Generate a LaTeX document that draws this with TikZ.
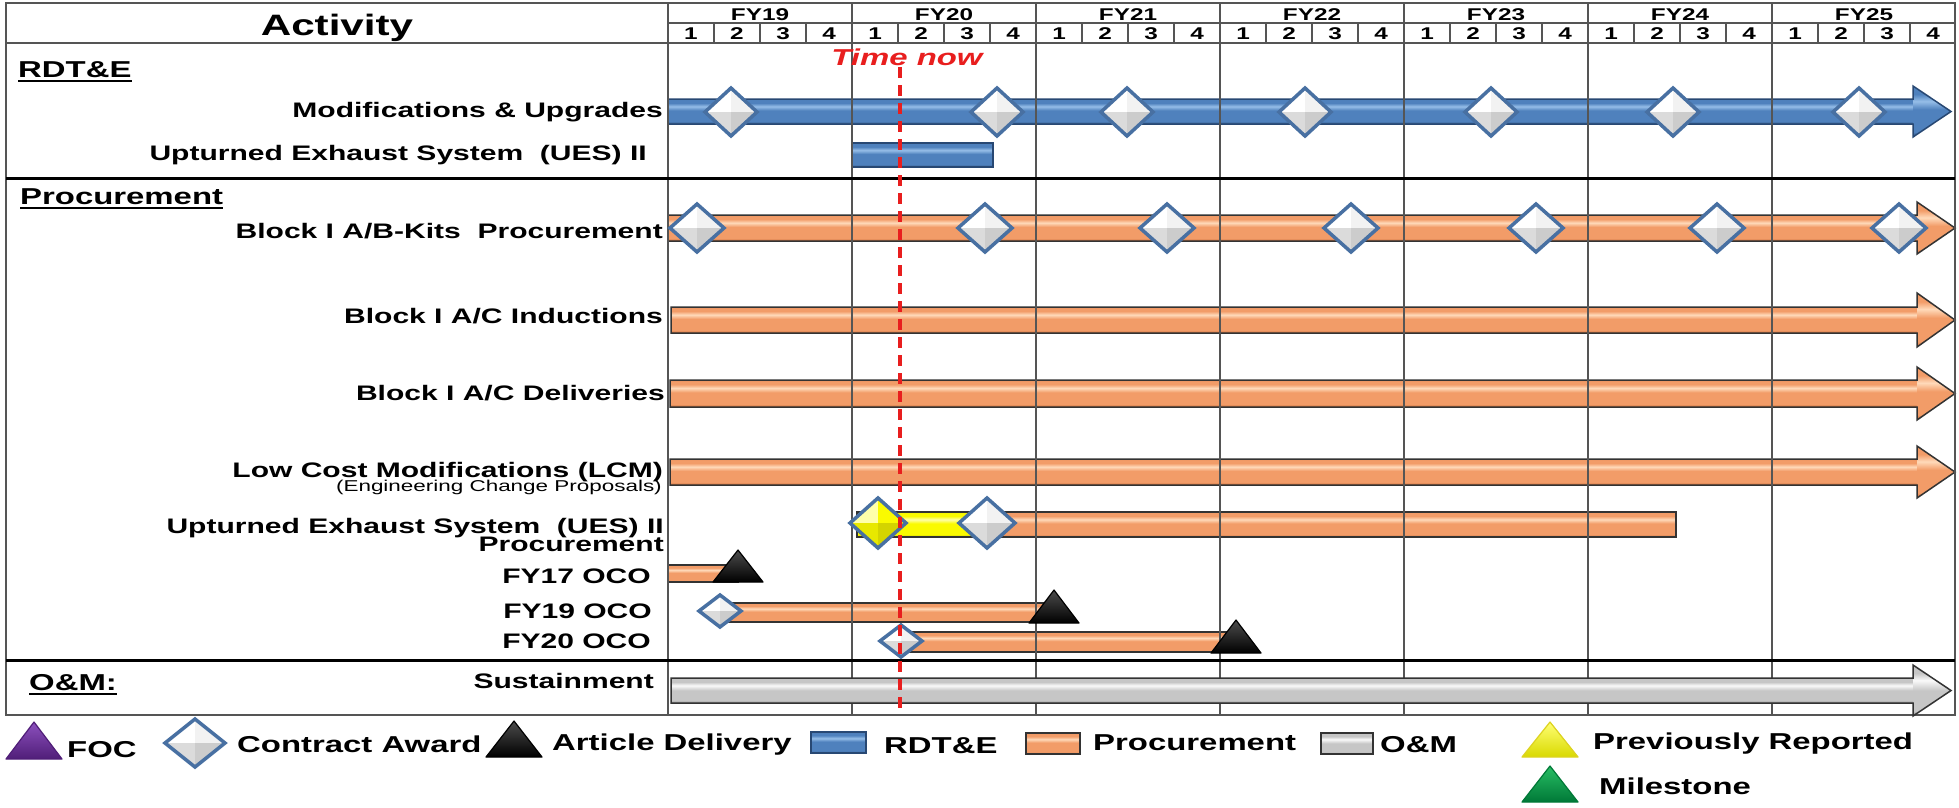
\documentclass[tikz,border=0pt]{standalone}
\usepackage{fontspec}
\setmainfont{Liberation Sans}[FakeStretch=1.43]
\usetikzlibrary{calc}
\definecolor{bbase}{RGB}{79,129,189}
\definecolor{bdark}{RGB}{40,72,115}
\definecolor{bhi}{RGB}{150,190,232}
\definecolor{obase}{RGB}{242,156,104}
\definecolor{odark}{RGB}{190,100,50}
\definecolor{ohi}{RGB}{255,218,186}
\definecolor{gbase}{RGB}{198,198,198}
\definecolor{gdark}{RGB}{130,130,130}
\definecolor{ghi}{RGB}{250,250,250}
\definecolor{ybase}{RGB}{250,250,0}
\definecolor{ydark}{RGB}{185,185,0}
\definecolor{yhi}{RGB}{255,255,170}
\definecolor{ymid}{RGB}{232,232,0}
\definecolor{ylow}{RGB}{212,212,0}
\definecolor{dblue}{RGB}{72,112,162}
\definecolor{gridc}{RGB}{85,85,85}
\definecolor{tnred}{RGB}{232,30,30}
\definecolor{focl}{RGB}{140,80,190}
\definecolor{focd}{RGB}{80,30,120}
\definecolor{msl}{RGB}{40,190,100}
\definecolor{msd}{RGB}{0,120,55}
\pgfdeclareverticalshading{blueshade}{100bp}{color(0bp)=(bdark); color(25bp)=(bdark); color(30bp)=(bbase); color(52bp)=(bbase); color(60bp)=(bhi); color(67bp)=(bbase); color(73bp)=(bbase); color(75bp)=(bdark); color(100bp)=(bdark)}
\pgfdeclareverticalshading{orangeshade}{100bp}{color(0bp)=(odark); color(25bp)=(odark); color(30bp)=(obase); color(52bp)=(obase); color(60bp)=(ohi); color(67bp)=(obase); color(73bp)=(obase); color(75bp)=(odark); color(100bp)=(odark)}
\pgfdeclareverticalshading{grayshade}{100bp}{color(0bp)=(gdark); color(25bp)=(gdark); color(30bp)=(gbase); color(50bp)=(gbase); color(60bp)=(ghi); color(67bp)=(gbase); color(73bp)=(gbase); color(75bp)=(gdark); color(100bp)=(gdark)}
\pgfdeclareverticalshading{yellowshade}{100bp}{color(0bp)=(ydark); color(25bp)=(ydark); color(30bp)=(ybase); color(52bp)=(ybase); color(60bp)=(yhi); color(67bp)=(ybase); color(73bp)=(ybase); color(75bp)=(ydark); color(100bp)=(ydark)}
% arrow bar: shading, outline, x0, xhead, xtip, y0, y1, ext
\newcommand\arrowbar[8]{%
  \shade[shading=#1] (#3,#6) rectangle (#4,#7);
  \shade[shading=#1] (#4,{#6-#8}) -- (#5,{(#6+#7)/2}) -- (#4,{#7+#8}) -- cycle;
  \draw[line width=1.5,draw=#2,line join=miter] (#3,#6) -- (#4,#6) -- (#4,{#6-#8}) -- (#5,{(#6+#7)/2}) -- (#4,{#7+#8}) -- (#4,#7) -- (#3,#7) -- cycle;}
% rect bar: shading, outline, x0, x1, y0, y1
\newcommand\rectbar[6]{%
  \shade[shading=#1] (#3,#5) rectangle (#4,#6);
  \draw[line width=1.5,draw=#2] (#3,#5) rectangle (#4,#6);}
% gem: x, y, hw, hh, c-topleft, c-topright, c-botleft, c-botright
\newcommand\gem[8]{%
  \fill[#5] (#1,#2) -- ({#1-#3},#2) -- (#1,{#2-#4}) -- cycle;
  \fill[#6] (#1,#2) -- (#1,{#2-#4}) -- ({#1+#3},#2) -- cycle;
  \fill[#7] (#1,#2) -- ({#1-#3},#2) -- (#1,{#2+#4}) -- cycle;
  \fill[#8] (#1,#2) -- ({#1+#3},#2) -- (#1,{#2+#4}) -- cycle;
  \draw[dblue,line width=3.5,line join=miter] ({#1-#3},#2) -- (#1,{#2-#4}) -- ({#1+#3},#2) -- (#1,{#2+#4}) -- cycle;}
\newcommand\award[4]{\gem{#1}{#2}{#3}{#4}{white}{gray!10}{gray!28}{gray!40}}
\newcommand\prevrep[4]{\gem{#1}{#2}{#3}{#4}{yhi}{ybase}{ymid}{ylow}}
% triangle: x, apex y, base y, hw, light, dark
\newcommand\tri[6]{%
  \shade[top color=#5,bottom color=#6] (#1,#2) -- ({#1+#4},#3) -- ({#1-#4},#3) -- cycle;
  \draw[#6,line width=1.2,line join=round] (#1,#2) -- ({#1+#4},#3) -- ({#1-#4},#3) -- cycle;}
\tikzset{
  lbl/.style={anchor=base east,inner sep=0,font=\bfseries\fontsize{21}{23}\selectfont},
  sec/.style={anchor=base west,inner sep=0,font=\bfseries\fontsize{23}{25}\selectfont},
  hdr/.style={anchor=base,inner sep=0,font=\bfseries\fontsize{17}{19}\selectfont},
  leg/.style={anchor=base west,inner sep=0,font=\bfseries\fontsize{23}{25}\selectfont},
  frame/.style={draw=gridc,line width=2},
  sep/.style={draw=black,line width=3}
}
\begin{document}
\begin{tikzpicture}[x=1pt,y=-1pt]
\useasboundingbox (0,0) rectangle (1959,807);
\fill[white] (0,0) rectangle (1959,807);
% ---- bars (orange and blue under grid) ----
\arrowbar{blueshade}{bdark}{668}{1913}{1951}{99}{124}{13}
\rectbar{blueshade}{bdark}{852}{993}{143}{167}
\arrowbar{orangeshade}{black!80}{668}{1917}{1955}{215}{241}{13}
\arrowbar{orangeshade}{black!80}{671}{1917}{1955}{307}{333}{14}
\arrowbar{orangeshade}{black!80}{670}{1917}{1955}{380}{407}{13}
\arrowbar{orangeshade}{black!80}{670}{1917}{1955}{459}{485}{13}
\rectbar{orangeshade}{black!80}{985}{1676}{512}{537}
\rectbar{yellowshade}{black!80}{857}{990}{512}{537}
\rectbar{orangeshade}{black!80}{668}{738}{565}{582}
\rectbar{orangeshade}{black!80}{720}{1054}{603}{622}
\rectbar{orangeshade}{black!80}{901}{1236}{632}{652}
% ---- grid ----
\foreach \k in {1,...,6} {\draw[frame] ({668+184*\k},3) -- ({668+184*\k},715);}
\foreach \k in {0,...,6} {\foreach \j in {1,2,3} {\draw[frame] ({668+184*\k+46*\j},23) -- ({668+184*\k+46*\j},43);}}
\draw[frame] (6,3) rectangle (1955,715);
\draw[frame] (668,3) -- (668,715);
\draw[frame] (6,43) -- (1955,43);
\draw[frame] (668,23) -- (1955,23);
\draw[sep] (6,178) -- (1955,178);
\draw[sep] (6,660) -- (1955,660);
% ---- sustainment bar ----
\arrowbar{grayshade}{black!80}{671}{1913}{1951}{678}{703}{13}
% ---- header text ----
\node[anchor=base,inner sep=0,font=\bfseries\fontsize{29.5}{31}\selectfont] (act) at (337,35) {Activity};
\foreach \k/\yr in {0/19,1/20,2/21,3/22,4/23,5/24,6/25} {
  \node[hdr] (fy\yr) at ({760+184*\k},20) {FY\yr};
  \foreach \q in {1,2,3,4} {\node[hdr] (q\yr\q) at ({691+184*\k+46*(\q-1)},39) {\q};}
}
% ---- section labels ----
\node[sec] (rdte) at (18,77) {RDT\&E};
\node[sec] (proc) at (20,204) {Procurement};
\node[sec] (om) at (29,690) {O\&M:};
\foreach \n in {rdte,proc,om} {\draw[line width=2] ($(\n.base west)+(0,4)$) -- ($(\n.base east)+(0,4)$);}
% ---- row labels ----
\node[lbl] (lmod) at (663,117) {Modifications \& Upgrades};
\node[lbl] (lues) at (647,160) {Upturned Exhaust System\ \ (UES) II};
\node[lbl] (lab) at (663,238) {Block I A/B-Kits\ \ Procurement};
\node[lbl] (lind) at (663,323) {Block I A/C Inductions};
\node[lbl] (ldel) at (665,400) {Block I A/C Deliveries};
\node[lbl] (llcm) at (663,477) {Low Cost Modifications (LCM)};
\node[anchor=base east,inner sep=0,font=\fontsize{15.7}{17}\selectfont] (lecp) at (662,491) {(Engineering Change Proposals)};
\node[lbl] (luesp) at (664,533) {Upturned Exhaust System\ \ (UES) II};
\node[lbl] (luesp2) at (664,551) {Procurement};
\node[lbl] (l17) at (651,583) {FY17 OCO};
\node[lbl] (l19) at (652,618) {FY19 OCO};
\node[lbl] (l20) at (651,648) {FY20 OCO};
\node[lbl] (lsus) at (654,688) {Sustainment};
% ---- milestones ----
\foreach \x in {731,997,1127,1305,1491,1673,1859} {\award{\x}{112}{26}{24}}
\foreach \x in {697,985,1167,1351,1536,1717,1899} {\award{\x}{228}{27}{24}}
\prevrep{878}{523}{28}{25}
\award{987}{523}{28}{25}
\award{720}{611}{21}{16}
\award{901}{641}{21}{16}
\tri{738}{550}{582}{25}{black!70}{black}
\tri{1054}{590}{623}{25}{black!70}{black}
\tri{1236}{620}{653}{25}{black!70}{black}
% ---- time now ----
\node[anchor=base,inner sep=0,text=tnred,font=\bfseries\itshape\fontsize{23}{25}\selectfont] (tnow) at (907,65) {Time now};
\draw[tnred,line width=4,dash pattern=on 11pt off 7pt] (900,67) -- (900,715);
% ---- legend ----
\tri{34}{722}{759}{28}{focl}{focd}
\node[leg] (lfoc) at (67,757) {FOC};
\award{195}{743}{30}{24}
\node[leg] (lca) at (237,752) {Contract Award};
\tri{514}{721}{757}{28}{black!70}{black}
\node[leg] (lad) at (552,750) {Article Delivery};
\rectbar{blueshade}{bdark}{811}{866}{732}{753}
\node[leg] (lrd) at (884,753) {RDT\&E};
\rectbar{orangeshade}{black!80}{1026}{1080}{733}{754}
\node[leg] (lpr) at (1093,750) {Procurement};
\rectbar{grayshade}{black!80}{1321}{1373}{733}{754}
\node[leg] (lom) at (1380,752) {O\&M};
\tri{1550}{722}{757}{28}{yellow!55!white}{yellow!85!black}
\node[leg] (lpre) at (1593,749) {Previously Reported};
\tri{1550}{766}{802}{28}{msl}{msd}
\node[leg] (lms) at (1599,794) {Milestone};
\end{tikzpicture}
\end{document}
